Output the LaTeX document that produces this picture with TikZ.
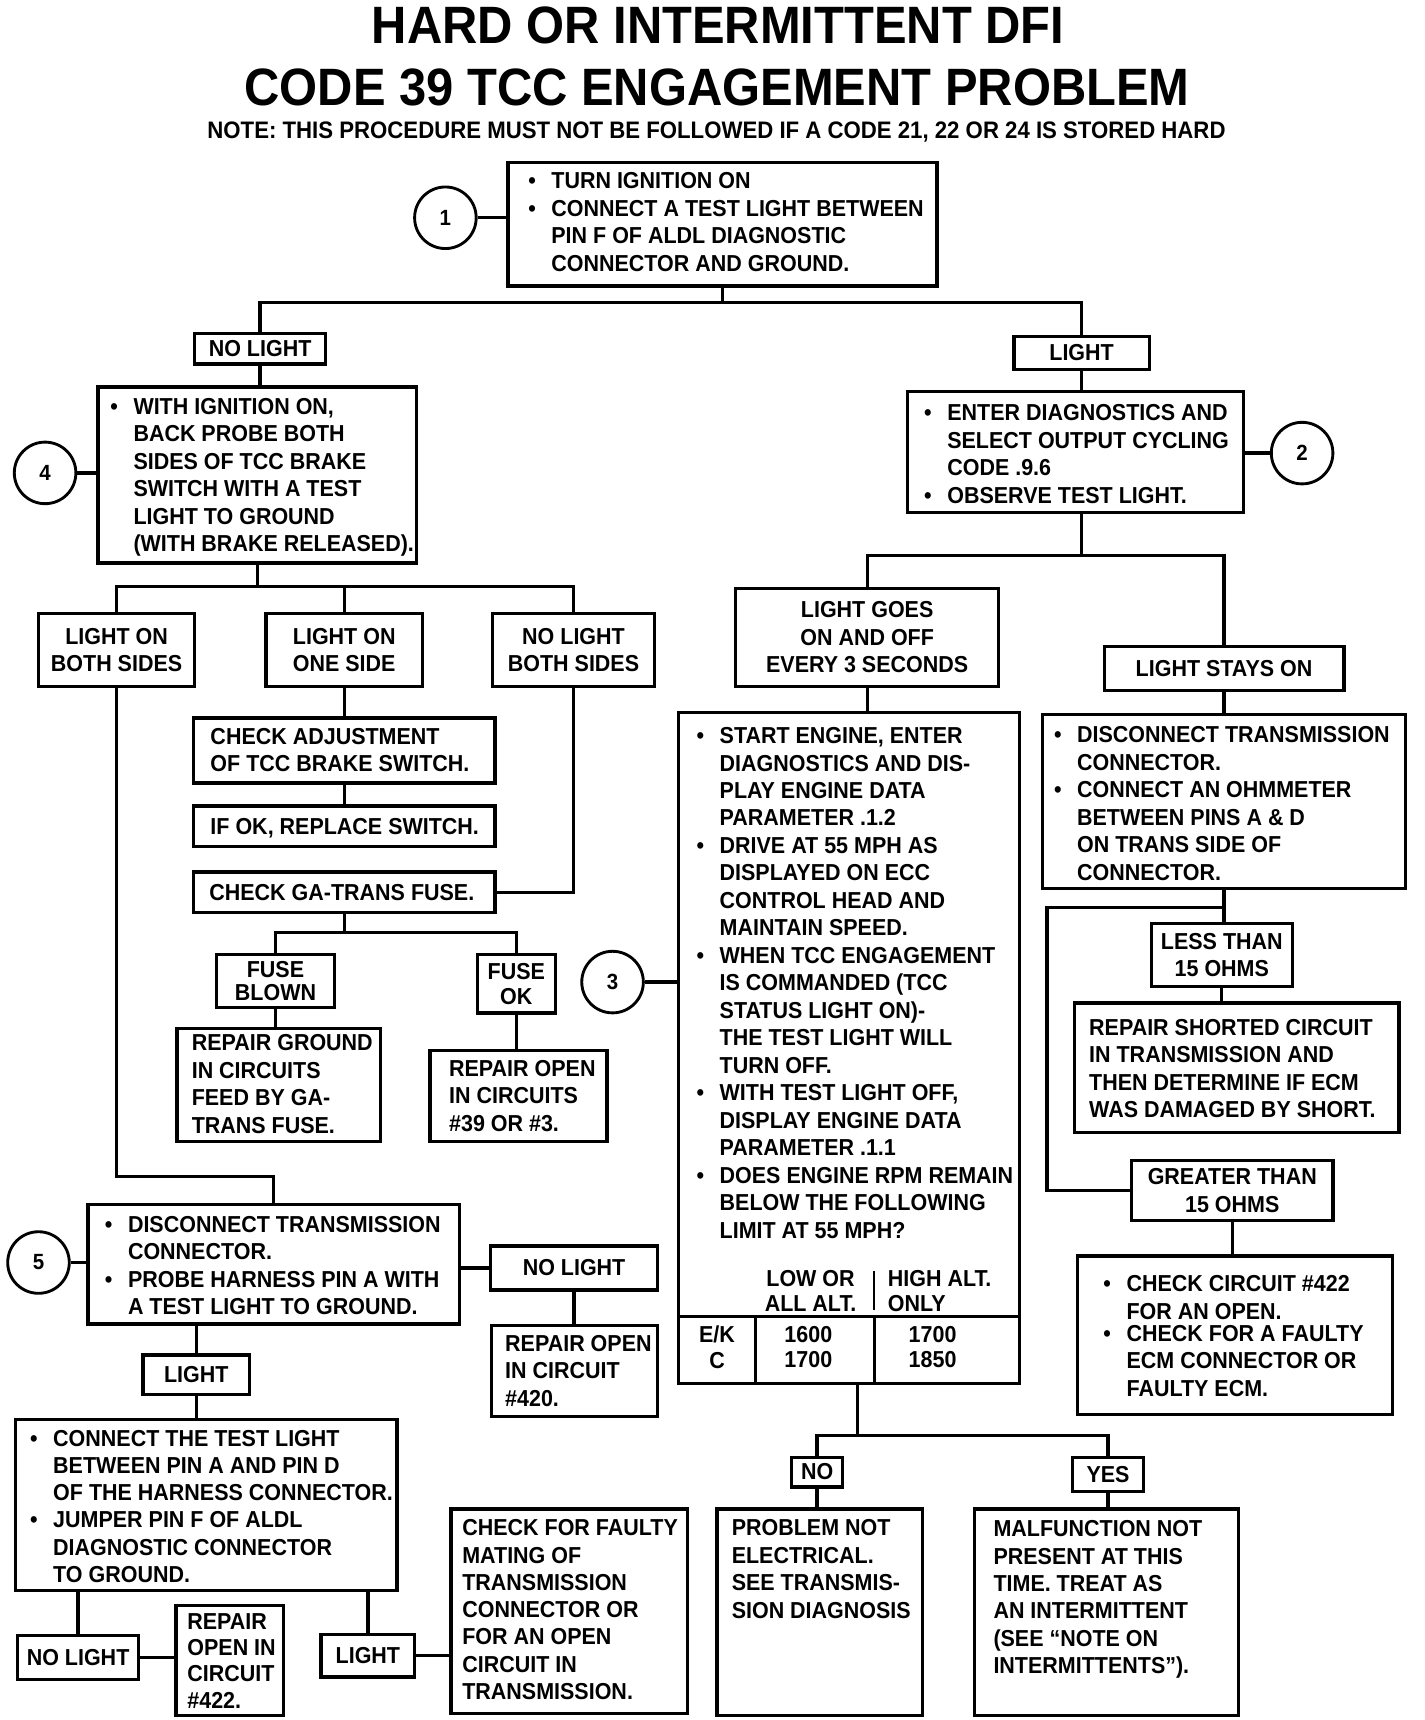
\documentclass[tikz,border=0pt]{standalone}
\usepackage{fontspec}
\setmainfont{Liberation Sans}[FakeStretch=0.93]
\usetikzlibrary{fit}
\newcommand\pf[1]{\fontsize{10.5}{#1}\selectfont\bfseries}
\newcommand\bul{\makebox[10.5pt][l]{\textbullet}}
\newcommand\ind{\hspace*{10.5pt}}
\newcommand\bx[5]{\node[box, minimum width={(#4-#2)*0.5pt}, minimum height={(#5-#3)*0.5pt}] (#1) at ({(#2+#4)/2},{(#3+#5)/2}) {};}
\newcommand\lbx[7][\pf{12.5}]{\node[box, font=#1, minimum width={(#5-#3)*0.5pt}, minimum height={(#6-#4)*0.5pt}] (#2) at ({(#3+#5)/2},{(#4+#6)/2}) {#7};}
\tikzset{
  box/.style={draw, line width=1.5pt, inner sep=0pt, align=center, font=\pf{12.5}},
  txt/.style={inner sep=0pt, anchor=north west, align=left, font=\pf{12.5}},
  circ/.style={draw, circle, line width=1.3pt, minimum size=28pt, inner sep=0pt, font=\bfseries\fontsize{10}{12}\selectfont},
  ln/.style={line width=1.5pt},
}
\begin{document}
\begin{tikzpicture}[x=0.5pt,y=-0.5pt,line join=miter]
\fill[white] (0,0) rectangle (1295,1564);
\useasboundingbox (0,0) rectangle (1295,1564);
% titles
\node[font=\fontsize{23.9}{28}\selectfont\bfseries, anchor=base, inner sep=0pt] (ttl1) at (653,40) {HARD OR INTERMITTENT DFI};
\node[font=\fontsize{23.9}{28}\selectfont\bfseries, anchor=base, inner sep=0pt] (ttl2) at (652,96) {CODE 39 TCC ENGAGEMENT PROBLEM};
\node[font=\fontsize{10.85}{13}\selectfont\bfseries, anchor=base, inner sep=0pt] (note) at (651.5,126) {NOTE: THIS PROCEDURE MUST NOT BE FOLLOWED IF A CODE 21, 22 OR 24 IS STORED HARD};
% box 1
\bx{b1}{462}{148}{852}{260}
\node[txt] (t1) at (480,156.5) {\bul TURN IGNITION ON\\ \bul CONNECT A TEST LIGHT BETWEEN\\ \ind PIN F OF ALDL DIAGNOSTIC\\ \ind CONNECTOR AND GROUND.};
\node[circ] (c1) at (405,198) {1};
\draw[ln] (c1.east) -- (c1.east -| b1.west);
\lbx{nl1}{177}{303}{296}{331}{NO LIGHT}
\lbx{l1}{922}{306}{1045}{336}{LIGHT}
\coordinate (j1) at (657,275);
\draw[ln] (b1.south) -- (j1);
\draw[ln] (nl1.north) |- (j1) -| (l1.north);
% box 4
\bx{b4}{89}{352}{379}{512}
\node[txt] (t4) at (100,361.5) {\bul WITH IGNITION ON,\\ \ind BACK PROBE BOTH\\ \ind SIDES OF TCC BRAKE\\ \ind SWITCH WITH A TEST\\ \ind LIGHT TO GROUND\\ \ind (WITH BRAKE RELEASED).};
\node[circ] (c4) at (41,430) {4};
\draw[ln] (nl1.south) -- (nl1.south |- b4.north);
\draw[ln] (c4.east) -- (c4.east -| b4.west);
\lbx{los}{35}{558}{177}{624}{LIGHT ON\\BOTH SIDES}
\lbx{loo}{242}{558}{384}{624}{LIGHT ON\\ONE SIDE}
\lbx{nlb}{448}{558}{595}{624}{NO LIGHT\\BOTH SIDES}
\coordinate (j4) at (234,533);
\draw[ln] (b4.south) -- (j4);
\draw[ln] (los.north) |- (j4) -| (nlb.north);
\draw[ln] (loo.north) -- (loo.north |- j4);
\bx{ca}{176}{653}{450}{712}
\node[txt] (tca) at (191,661.5) {CHECK ADJUSTMENT\\OF TCC BRAKE SWITCH.};
\draw[ln] (loo.south) -- (loo.south |- ca.north);
\bx{ifok}{176}{733}{450}{770}
\node[txt] (tif) at (191,743.5) {IF OK, REPLACE SWITCH.};
\draw[ln] (ca.south) -- (ifok.north);
\bx{gaf}{176}{793}{450}{830}
\node[txt] (tga) at (190,803.5) {CHECK GA-TRANS FUSE.};
\draw[ln] (nlb.south) |- (gaf.east);
\lbx[\pf{10.5}]{fb}{197}{868}{304}{916}{FUSE\\BLOWN}
\lbx[\pf{11.5}]{fok}{434}{868}{505}{921}{FUSE\\OK}
\coordinate (j6) at (313,848);
\draw[ln] (gaf.south) -- (j6);
\draw[ln] (fb.north) |- (j6) -| (fok.north);
\bx{rg}{161}{935}{346}{1038}
\node[txt] (trg) at (174,940.5) {REPAIR GROUND\\IN CIRCUITS\\FEED BY GA-\\TRANS FUSE.};
\draw[ln] (fb.south) -- (fb.south |- rg.north);
\bx{ro}{391}{955}{552}{1038}
\node[txt] (tro) at (408,963.5) {REPAIR OPEN\\IN CIRCUITS\\\#39 OR \#3.};
\draw[ln] (fok.south) -- (fok.south |- ro.north);
% box 5
\bx{b5}{80}{1095}{418}{1204}
\node[txt] (t5) at (95,1105.5) {\bul DISCONNECT TRANSMISSION\\ \ind CONNECTOR.\\ \bul PROBE HARNESS PIN A WITH\\ \ind A TEST LIGHT TO GROUND.};
\node[circ] (c5) at (35,1148) {5};
\draw[ln] (c5.east) -- (c5.east -| b5.west);
\coordinate (k5) at (249,1070);
\draw[ln] (los.south) |- (k5) -- (b5.north);
\lbx{nl5}{446}{1133}{598}{1173}{NO LIGHT}
\draw[ln] (b5.east |- nl5.west) -- (nl5.west);
\bx{r420}{447}{1205}{598}{1288}
\node[txt] (t420) at (459,1213.5) {REPAIR OPEN\\IN CIRCUIT\\\#420.};
\draw[ln] (nl5.south) -- (nl5.south |- r420.north);
\lbx{l5}{130}{1232}{227}{1268}{LIGHT}
\draw[ln] (l5.north |- b5.south) -- (l5.north);
\bx{b6}{14}{1291}{361}{1446}
\node[txt, font=\pf{12.3}] (t6) at (27,1300.5) {\bul CONNECT THE TEST LIGHT\\ \ind BETWEEN PIN A AND PIN D\\ \ind OF THE HARNESS CONNECTOR.\\ \bul JUMPER PIN F OF ALDL\\ \ind DIAGNOSTIC CONNECTOR\\ \ind TO GROUND.};
\draw[ln] (l5.south) -- (l5.south |- b6.north);
\lbx{nl6}{16}{1487}{126}{1527}{NO LIGHT}
\lbx{l6}{292}{1486}{377}{1525}{LIGHT}
\draw[ln] (nl6.north |- b6.south) -- (nl6.north);
\draw[ln] (l6.north |- b6.south) -- (l6.north);
\bx{r422}{160}{1460}{258}{1560}
\node[txt, font=\pf{12}] (t422) at (170,1466.5) {REPAIR\\OPEN IN\\CIRCUIT\\\#422.};
\draw[ln] (nl6.east) -- (nl6.east -| r422.west);
\bx{cf}{410}{1372}{625}{1558}
\node[txt, font=\pf{12.4}] (tcf) at (420,1381.5) {CHECK FOR FAULTY\\MATING OF\\TRANSMISSION\\CONNECTOR OR\\FOR AN OPEN\\CIRCUIT IN\\TRANSMISSION.};
\draw[ln] (l6.east) -- (l6.east -| cf.west);
% right side
\bx{b2}{825}{356}{1131}{466}
\node[txt] (t2) at (840,367.5) {\bul ENTER DIAGNOSTICS AND\\ \ind SELECT OUTPUT CYCLING\\ \ind CODE .9.6\\ \bul OBSERVE TEST LIGHT.};
\node[circ] (c2) at (1184,412) {2};
\draw[ln] (c2.west) -- (c2.west -| b2.east);
\draw[ln] (l1.south) -- (l1.south |- b2.north);
\coordinate (j2) at (983.5,505);
\draw[ln] (l1.south |- b2.south) -- (j2);
\lbx{lg}{669}{535}{908}{624}{LIGHT GOES\\ON AND OFF\\EVERY 3 SECONDS}
\lbx{ls}{1004}{588}{1222}{628}{LIGHT STAYS ON}
\draw[ln] (lg.north) |- (j2) -| (ls.north);
% box 3
\bx{b3}{617}{648}{927}{1258}
\node[txt] (t3) at (633,661) {\bul START ENGINE, ENTER\\ \ind DIAGNOSTICS AND DIS-\\ \ind PLAY ENGINE DATA\\ \ind PARAMETER .1.2\\ \bul DRIVE AT 55 MPH AS\\ \ind DISPLAYED ON ECC\\ \ind CONTROL HEAD AND\\ \ind MAINTAIN SPEED.\\ \bul WHEN TCC ENGAGEMENT\\ \ind IS COMMANDED (TCC\\ \ind STATUS LIGHT ON)-\\ \ind THE TEST LIGHT WILL\\ \ind TURN OFF.\\ \bul WITH TEST LIGHT OFF,\\ \ind DISPLAY ENGINE DATA\\ \ind PARAMETER .1.1\\ \bul DOES ENGINE RPM REMAIN\\ \ind BELOW THE FOLLOWING\\ \ind LIMIT AT 55 MPH?};
\node[circ] (c3) at (557,893) {3};
\draw[ln] (c3.east) -- (c3.east -| b3.west);
\draw[ln] (lg.south) -- (lg.south |- b3.north);
\draw[ln] (617,1197) -- (927,1197);
\draw[ln] (687,1197) -- (687,1258);
\draw[ln] (795,1197) -- (795,1258);
\draw[line width=1pt] (795,1156) -- (795,1191);
\node[font=\pf{11.3}, align=center, inner sep=0pt, anchor=north] (tlow) at (737,1155) {LOW OR\\ALL ALT.};
\node[txt, font=\pf{11.3}] (thigh) at (807,1155) {HIGH ALT.\\ONLY};
\node[font=\pf{11.5}, align=center, inner sep=0pt, anchor=north] (tek) at (652,1205.5) {E/K\\C};
\node[font=\pf{11.5}, align=center, inner sep=0pt, anchor=north] (t16) at (735,1205.5) {1600\\1700};
\node[font=\pf{11.5}, align=center, inner sep=0pt, anchor=north] (t17) at (848,1205.5) {1700\\1850};
\coordinate (j3) at (780,1305);
\draw[ln] (j3 |- b3.south) -- (j3);
\lbx{no}{720}{1325}{766}{1352}{NO}
\lbx{yes}{975}{1325}{1040}{1356}{YES}
\draw[ln] (no.north) |- (j3) -| (yes.north);
\bx{pn}{652}{1372}{839}{1560}
\node[txt] (tpn) at (665,1381.5) {PROBLEM NOT\\ELECTRICAL.\\SEE TRANSMIS-\\SION DIAGNOSIS};
\draw[ln] (no.south) -- (no.south |- pn.north);
\bx{mf}{886}{1372}{1126}{1560}
\node[txt, font=\pf{12.4}] (tmf) at (903,1382.5) {MALFUNCTION NOT\\PRESENT AT THIS\\TIME. TREAT AS\\AN INTERMITTENT\\(SEE “NOTE ON\\INTERMITTENTS”).};
\draw[ln] (yes.south) -- (yes.south |- mf.north);
% box 7
\bx{b7}{948}{650}{1278}{808}
\node[txt] (t7) at (958,660.5) {\bul DISCONNECT TRANSMISSION\\ \ind CONNECTOR.\\ \bul CONNECT AN OHMMETER\\ \ind BETWEEN PINS A \& D\\ \ind ON TRANS SIDE OF\\ \ind CONNECTOR.};
\draw[ln] (ls.south) -- (ls.south |- b7.north);
\lbx[\pf{12}]{lt}{1047}{840}{1175}{897}{LESS THAN\\15 OHMS}
\lbx{gt}{1029}{1055}{1212}{1110}{GREATER THAN\\15 OHMS}
\draw[ln] (b7.south) -- (b7.south |- lt.north);
\coordinate (j7) at (1113,825);
\coordinate (k7) at (952,825);
\draw[ln] (j7) -- (k7) |- (gt.west);
\bx{rs}{977}{912}{1272}{1030}
\node[txt] (trs) at (990,926.5) {REPAIR SHORTED CIRCUIT\\IN TRANSMISSION AND\\THEN DETERMINE IF ECM\\WAS DAMAGED BY SHORT.};
\draw[ln] (lt.south) -- (lt.south |- rs.north);
\bx{b8}{980}{1142}{1266}{1286}
\node[txt] (t8) at (1003,1159.5) {\bul CHECK CIRCUIT \#422\\ \ind FOR AN OPEN.\\[-2.5pt] \bul CHECK FOR A FAULTY\\ \ind ECM CONNECTOR OR\\ \ind FAULTY ECM.};
\draw[ln] (gt.south) -- (gt.south |- b8.north);
\end{tikzpicture}
\end{document}
